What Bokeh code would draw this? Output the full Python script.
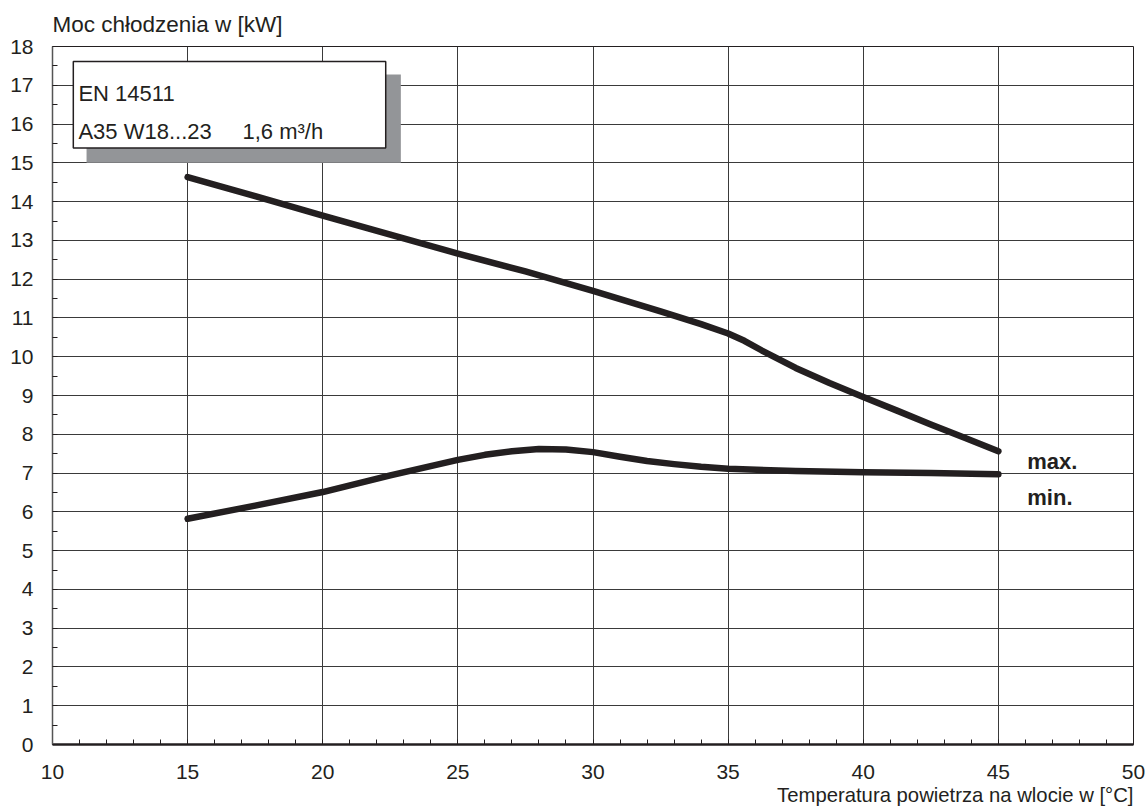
from bokeh.plotting import figure
from bokeh.models import Range1d, SingleIntervalTicker, Label, BoxAnnotation, ColumnDataSource, Title
from bokeh.embed import file_html
from bokeh.resources import INLINE

# ---- data ----
max_x = [15, 17.5, 20, 22.5, 25, 27.5, 30, 32.5, 34, 35, 35.6, 36.25, 37.5, 38.75, 40, 41.25, 42.5, 43.75, 45]
max_y = [14.63, 14.14, 13.64, 13.15, 12.66, 12.2, 11.7, 11.17, 10.84, 10.6, 10.41, 10.16, 9.71, 9.32, 8.96, 8.61, 8.25, 7.91, 7.56]
min_x = [15, 17.5, 20, 22.5, 25, 26, 27, 28, 29, 30, 31, 32, 33, 34, 35, 37.5, 40, 42.5, 45]
min_y = [5.82, 6.16, 6.51, 6.94, 7.34, 7.47, 7.56, 7.62, 7.61, 7.54, 7.42, 7.31, 7.23, 7.16, 7.11, 7.05, 7.02, 7.0, 6.97]
series_names = ["max.", "min."]
x_title = "Temperatura powietrza na wlocie w [°C]"
y_title = "Moc chłodzenia w [kW]"
box_lines = ["EN 14511", "A35 W18...23", "1,6 m³/h"]

INK = "#231f20"
FONT = "Liberation Sans"

p = figure(width=1148, height=806, output_backend="svg", toolbar_location=None,
           x_range=Range1d(10, 50), y_range=Range1d(0, 18),
           min_border_left=52, min_border_right=15, min_border_top=46, min_border_bottom=62)
p.title = Title(text=y_title, align="left", text_font=FONT, text_font_size="22.5px",
                text_font_style="normal", text_color=INK, standoff=19)
p.add_layout(Title(text=x_title, align="right", text_font=FONT, text_font_size="20.3px",
                   text_font_style="normal", text_color=INK, standoff=0), "below")
p.background_fill_color = "white"
p.border_fill_color = "white"
p.outline_line_color = INK
p.outline_line_width = 1

xt = SingleIntervalTicker(interval=5, num_minor_ticks=5)
yt = SingleIntervalTicker(interval=1, num_minor_ticks=2)
p.xaxis.ticker = xt
p.yaxis.ticker = yt
p.xgrid.ticker = xt
p.ygrid.ticker = yt
for g in (p.xgrid, p.ygrid):
    g.grid_line_color = "#3a3a3a"
    g.grid_line_width = 1
    g.grid_line_alpha = 1

for ax in (p.xaxis, p.yaxis):
    ax.major_tick_in = 0
    ax.major_tick_out = 0
    ax.minor_tick_in = 5
    ax.minor_tick_out = 0
    ax.minor_tick_line_color = INK
    ax.major_label_text_font = FONT
    ax.major_label_text_font_size = "21px"
    ax.major_label_text_color = INK
    ax.axis_label = None
p.xaxis.axis_line_width = 2.5
p.xaxis.axis_line_color = INK
p.yaxis.axis_line_width = 1.5
p.yaxis.axis_line_color = "#555555"
p.xaxis.major_label_standoff = 20
p.yaxis.major_label_standoff = 19

src_max = ColumnDataSource(dict(x=max_x, y=max_y))
src_min = ColumnDataSource(dict(x=min_x, y=min_y))
for s in (src_max, src_min):
    p.line("x", "y", source=s, line_color=INK, line_width=6.5, line_cap="round", line_join="round")

# annotation box with shadow
p.add_layout(BoxAnnotation(left=11.26, right=22.89, bottom=15.0, top=17.28,
                           fill_color="#939598", fill_alpha=1, line_alpha=0))
p.add_layout(BoxAnnotation(left=10.77, right=22.33, bottom=15.38, top=17.61,
                           fill_color="white", fill_alpha=1, line_color=INK, line_width=1.5, line_alpha=1))

def lab(x, y, text, size="22px", bold=False, align="left"):
    p.add_layout(Label(x=x, y=y, text=text, text_font=FONT, text_font_size=size,
                       text_color=INK, text_align=align, text_baseline="alphabetic",
                       text_font_style="bold" if bold else "normal"))

lab(10.96, 16.80, box_lines[0])
lab(10.96, 15.81, box_lines[1])
lab(17.03, 15.81, box_lines[2])

lab(46.07, 7.31, series_names[0], size="22px", bold=True)
lab(46.07, 6.37, series_names[1], size="22px", bold=True)

open("out.html", "w").write(file_html(p, INLINE))
